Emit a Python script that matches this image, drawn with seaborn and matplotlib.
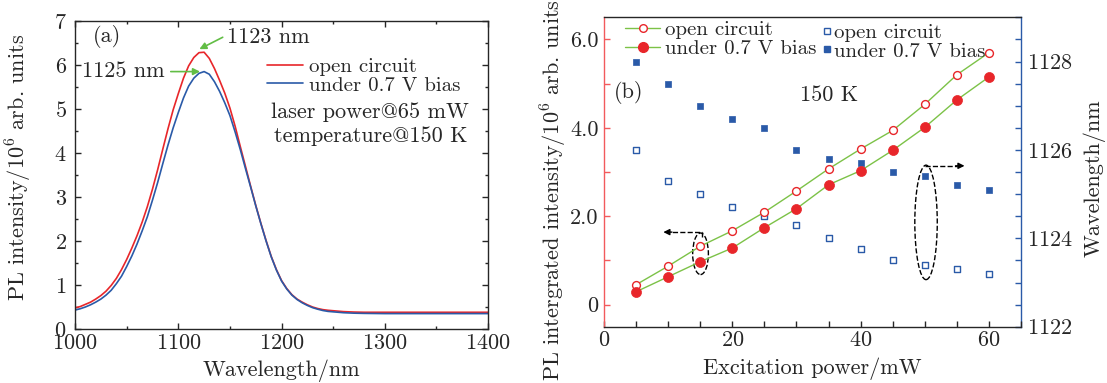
import numpy as np
import pandas as pd
import matplotlib
matplotlib.use("Agg")
import matplotlib.pyplot as plt
import seaborn as sns
from matplotlib.lines import Line2D
from matplotlib.patches import Ellipse
from matplotlib.ticker import MultipleLocator, FixedLocator

# ---- data, panel (a): PL spectra ----
wavelength = [1000, 1005, 1010, 1015, 1020, 1025, 1030, 1035, 1040, 1045,
              1050, 1055, 1060, 1065, 1070, 1075, 1080, 1085, 1090, 1095,
              1100, 1105, 1110, 1115, 1120, 1125, 1130, 1135, 1140, 1145,
              1150, 1155, 1160, 1165, 1170, 1175, 1180, 1185, 1190, 1195,
              1200, 1205, 1210, 1215, 1220, 1225, 1230, 1235, 1240, 1245,
              1250, 1255, 1260, 1270, 1280, 1300, 1350, 1400]
pl_open = [0.48, 0.51, 0.56, 0.61, 0.68, 0.76, 0.86, 0.99, 1.15, 1.35,
           1.58, 1.84, 2.12, 2.43, 2.78, 3.18, 3.62, 4.09, 4.55, 4.98,
           5.35, 5.70, 5.98, 6.17, 6.28, 6.29, 6.15, 5.92, 5.65, 5.36,
           5.02, 4.61, 4.15, 3.70, 3.25, 2.81, 2.40, 2.01, 1.65, 1.35,
           1.10, 0.92, 0.78, 0.68, 0.61, 0.55, 0.50, 0.465, 0.44, 0.425,
           0.415, 0.405, 0.395, 0.385, 0.38, 0.38, 0.38, 0.38]
pl_bias = [0.43, 0.46, 0.50, 0.55, 0.61, 0.68, 0.77, 0.88, 1.03, 1.20,
           1.42, 1.66, 1.93, 2.23, 2.55, 2.93, 3.33, 3.76, 4.18, 4.57,
           4.92, 5.25, 5.52, 5.70, 5.81, 5.85, 5.79, 5.62, 5.40, 5.14,
           4.85, 4.48, 4.08, 3.65, 3.23, 2.80, 2.39, 2.00, 1.64, 1.34,
           1.09, 0.91, 0.77, 0.67, 0.595, 0.535, 0.485, 0.45, 0.42, 0.40,
           0.39, 0.38, 0.37, 0.36, 0.355, 0.35, 0.35, 0.35]

# ---- data, panel (b): power dependence ----
power = [5, 10, 15, 20, 25, 30, 35, 40, 45, 50, 55, 60]
int_open = [0.45, 0.87, 1.32, 1.67, 2.09, 2.57, 3.07, 3.52, 3.94, 4.53, 5.20, 5.70]
int_bias = [0.29, 0.63, 0.97, 1.28, 1.74, 2.17, 2.71, 3.03, 3.49, 4.01, 4.63, 5.15]
peak_open = [1126.0, 1125.3, 1125.0, 1124.7, 1124.5, 1124.3, 1124.0, 1123.75,
             1123.5, 1123.4, 1123.3, 1123.2]
peak_bias = [1128.0, 1127.5, 1127.0, 1126.7, 1126.5, 1126.0, 1125.8, 1125.7,
             1125.5, 1125.4, 1125.2, 1125.1]

RED = '#e8262a'
BLUE = '#2a5aa8'
GREEN = '#62bd45'
LGREEN = '#7cc247'
FS = 16      # axis labels, ticks, annotations
LFS = 15     # legend entries

sns.set_style("ticks")
plt.rcParams['font.family'] = ['cmr10', 'DejaVu Serif']
plt.rcParams['mathtext.fontset'] = 'cm'
plt.rcParams['axes.formatter.use_mathtext'] = True
plt.rcParams['axes.unicode_minus'] = False
plt.rcParams['font.size'] = FS
plt.rcParams['axes.linewidth'] = 1.0

spec = pd.DataFrame({'wl': wavelength, 'open': pl_open, 'bias': pl_bias})
pw = pd.DataFrame({'p': power, 'io': int_open, 'ib': int_bias,
                   'wo': peak_open, 'wb': peak_bias})

fig = plt.figure(figsize=(11.07, 3.83), dpi=100)
ax1 = fig.add_axes([0.0678, 0.1410, 0.3731, 0.8042])
ax2 = fig.add_axes([0.5456, 0.1470, 0.3767, 0.8078])

# ---------------- panel (a) ----------------
sns.lineplot(data=spec, x='wl', y='open', ax=ax1, color=RED, lw=1.2,
             label='open circuit')
sns.lineplot(data=spec, x='wl', y='bias', ax=ax1, color=BLUE, lw=1.2,
             label='under 0.7 V bias')
ax1.set_xlim(1000, 1400)
ax1.set_ylim(0, 7)
ax1.xaxis.set_major_locator(MultipleLocator(100))
ax1.xaxis.set_minor_locator(MultipleLocator(50))
ax1.yaxis.set_major_locator(MultipleLocator(1))
ax1.yaxis.set_minor_locator(MultipleLocator(0.5))
ax1.tick_params(which='both', direction='in', top=True, right=True,
                labelsize=FS, width=1.0)
ax1.tick_params(which='major', length=4, pad=3)
ax1.tick_params(which='minor', length=2.4)
ax1.tick_params(axis='y', which='major', pad=6)
ax1.set_xlabel('Wavelength/nm', fontsize=FS)
ax1.set_ylabel(r'PL intensity/10$^6$ arb. units', fontsize=FS)
ax1.xaxis.set_label_coords(0.5, -0.100)
ax1.yaxis.set_label_coords(-0.100, 0.524)

ax1.legend(loc='center left', bbox_to_anchor=(0.464, 0.821), frameon=False,
           fontsize=LFS, handlelength=1.76, handletextpad=0.29,
           labelspacing=0, borderpad=0, borderaxespad=0)
ax1.text(1286, 4.92, 'laser power@65 mW', ha='center', va='center', fontsize=FS)
ax1.text(1286, 4.39, 'temperature@150 K', ha='center', va='center', fontsize=FS)
ax1.text(1017, 6.64, '(a)', ha='left', va='center', fontsize=FS)

ax1.text(1147, 6.64, '1123 nm', ha='left', va='center', fontsize=FS)
ax1.annotate('', xy=(1120.4, 6.36), xytext=(1143, 6.63),
             arrowprops=dict(arrowstyle='-|>', color=GREEN, lw=1.2,
                             mutation_scale=10, shrinkA=0, shrinkB=0))
ax1.text(1087, 5.86, '1125 nm', ha='right', va='center', fontsize=FS)
ax1.annotate('', xy=(1121, 5.85), xytext=(1092.7, 5.85),
             arrowprops=dict(arrowstyle='-|>', color=GREEN, lw=1.2,
                             mutation_scale=10, shrinkA=0, shrinkB=0))

# ---------------- panel (b) ----------------
ax3 = ax2.twinx()
ax3.set_position(ax2.get_position())

sns.scatterplot(data=pw, x='p', y='wo', ax=ax3, marker='s', s=16,
                facecolor='white', edgecolor=BLUE, linewidth=1.0, zorder=3)
sns.scatterplot(data=pw, x='p', y='wb', ax=ax3, marker='s', s=22,
                color=BLUE, edgecolor=BLUE, linewidth=0.5, zorder=3)

sns.lineplot(data=pw, x='p', y='io', ax=ax2, color=LGREEN, lw=1.0, zorder=2)
sns.lineplot(data=pw, x='p', y='ib', ax=ax2, color=LGREEN, lw=1.0, zorder=2)
sns.scatterplot(data=pw, x='p', y='io', ax=ax2, marker='o', s=32,
                facecolor='white', edgecolor=RED, linewidth=1.0, zorder=4)
sns.scatterplot(data=pw, x='p', y='ib', ax=ax2, marker='o', s=52,
                color=RED, edgecolor=RED, linewidth=0.5, zorder=4)

# red data on top of the twin axis
ax2.set_zorder(ax3.get_zorder() + 1)
ax2.patch.set_visible(False)

ax2.set_xlim(0, 65)
ax2.set_ylim(-0.5, 6.5)
ax3.set_ylim(1122, 1129)
ax2.xaxis.set_major_locator(FixedLocator([0, 20, 40, 60]))
ax2.xaxis.set_minor_locator(MultipleLocator(5))
ax2.yaxis.set_major_locator(FixedLocator([0, 2, 4, 6]))
ax2.yaxis.set_minor_locator(FixedLocator([1, 3, 5]))
ax2.set_yticklabels(['0', '2.0', '4.0', '6.0'])
ax3.yaxis.set_major_locator(MultipleLocator(2))
ax3.yaxis.set_minor_locator(MultipleLocator(0.5))

ax2.tick_params(axis='x', which='both', direction='in', length=4.3,
                width=1.0, labelsize=FS, pad=3, top=False)
ax2.tick_params(axis='y', which='both', direction='in', length=4.3,
                width=1.0, color='#f25a5c', labelsize=FS, pad=4)
ax3.tick_params(axis='y', which='both', direction='in', length=4.3,
                width=1.0, color=BLUE, labelsize=FS, pad=4)

ax2.spines['left'].set_color('#f25a5c')
ax2.spines['right'].set_visible(False)
ax3.spines['left'].set_visible(False)
ax3.spines['right'].set_color(BLUE)
ax3.spines['top'].set_visible(False)
ax3.spines['bottom'].set_visible(False)

ax2.set_xlabel('Excitation power/mW', fontsize=FS)
ax2.set_ylabel(r'PL intergrated intensity/10$^6$ arb. units', fontsize=FS)
ax3.set_ylabel('Wavelength/nm', fontsize=FS)
ax2.xaxis.set_label_coords(0.5, -0.100)
ax2.yaxis.set_label_coords(-0.085, 0.44)
ax3.yaxis.set_label_coords(1.150, 0.479)

ax2.text(1.6, 4.81, '(b)', ha='left', va='center', fontsize=FS)
ax2.text(30.5, 4.74, '150 K', ha='left', va='center', fontsize=FS)

# dashed ellipses and arrows
ax2.add_patch(Ellipse((15.05, 1.15), 2.45, 0.94, fill=False, ls='--',
                      lw=1.0, color='black'))
ax2.add_patch(Ellipse((50.2, 1.86), 3.5, 2.59, fill=False, ls='--',
                      lw=1.0, color='black'))
ax2.plot([15.3, 15.3, 10.4], [1.53, 1.64, 1.64], ls='--', color='black', lw=1.0)
ax2.annotate('', xy=(9.25, 1.64), xytext=(10.6, 1.64),
             arrowprops=dict(arrowstyle='-|>', color='black', lw=1.0,
                             mutation_scale=9, shrinkA=0, shrinkB=0))
ax2.plot([50.1, 55.0], [3.14, 3.14], ls='--', color='black', lw=1.0)
ax2.annotate('', xy=(56.2, 3.14), xytext=(54.8, 3.14),
             arrowprops=dict(arrowstyle='-|>', color='black', lw=1.0,
                             mutation_scale=9, shrinkA=0, shrinkB=0))

# legends
red_handles = [
    Line2D([], [], color=LGREEN, lw=1.0, marker='o', ms=5.5, mfc='white',
           mec=RED, mew=1.0),
    Line2D([], [], color=LGREEN, lw=1.0, marker='o', ms=7, mfc=RED,
           mec=RED),
]
blue_handles = [
    Line2D([], [], ls='none', marker='s', ms=3.8, mfc='white', mec=BLUE,
           mew=1.0),
    Line2D([], [], ls='none', marker='s', ms=4.2, mfc=BLUE, mec=BLUE),
]
labels = ['open circuit', 'under 0.7 V bias']
leg1 = ax2.legend(red_handles, labels, loc='center left',
                  bbox_to_anchor=(0.050, 0.929), frameon=False, fontsize=LFS,
                  handlelength=1.7, handletextpad=0.25, labelspacing=0,
                  borderpad=0, borderaxespad=0, numpoints=1)
ax2.add_artist(leg1)
ax2.legend(blue_handles, labels, loc='center left',
           bbox_to_anchor=(0.524, 0.920), frameon=False, fontsize=LFS,
           handlelength=0.4, handletextpad=0.15, labelspacing=0,
           borderpad=0, borderaxespad=0, numpoints=1)

fig.savefig('out.png', dpi=100)
